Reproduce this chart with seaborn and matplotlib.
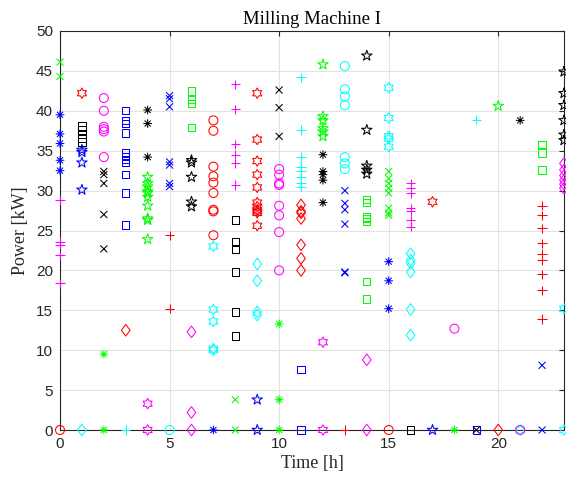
import numpy as np
import pandas as pd
import matplotlib
matplotlib.use("Agg")
import matplotlib.pyplot as plt
from matplotlib.path import Path
import seaborn as sns

# ---------------------------------------------------------------------------
# Power readings per run: {hour: [readings in kW]}
# ---------------------------------------------------------------------------
run01 = {0: [0], 7: [38.8, 37.5, 33.0, 31.8, 31.0, 29.7, 27.6, 27.4, 24.4], 15: [0]}
run02 = {1: [0], 9: [20.8, 18.7, 14.8, 14.4], 16: [22.1, 21.3, 20.9, 19.8, 15.1, 11.9]}
run03 = {2: [9.5, 0], 10: [13.3, 3.8, 0], 18: [0]}
run04 = {3: [0], 11: [44.2, 37.6, 34.2, 33.0, 32.4, 31.7, 31.0, 30.5], 19: [38.9]}
run05 = {4: [3.3, 0], 12: [11.0, 0]}
run06 = {5: [0], 13: [45.6, 42.7, 41.8, 40.7, 34.2, 33.4, 32.7]}
run07 = {6: [12.3, 2.2, 0], 14: [8.8, 0], 23: [33.4, 32.6, 31.9, 31.3, 30.8, 30.3]}
run08 = {0: [39.5, 37.1, 35.9, 33.8, 32.5], 7: [0], 15: [21.1, 18.7, 15.2]}
run09 = {0: [46.1, 44.3], 8: [3.8, 0], 15: [32.4, 31.5, 30.9, 30.3, 29.7, 27.8, 27.2, 26.9]}
run10 = {1: [35.1, 34.8, 33.5, 30.1], 9: [3.8, 0], 17: [0]}
run11 = {3: [40.0, 38.8, 38.4, 37.2, 34.7, 34.3, 33.9, 33.5, 32.0, 29.7, 25.7], 11: [7.6, 0], 19: [0]}
run12 = {5: [24.4, 15.2], 13: [0], 22: [28.1, 26.9, 25.3, 23.4, 22.1, 21.3, 19.5, 17.5, 13.9]}
run13 = {1: [38.1, 37.6, 37.0, 36.5, 36.1], 8: [26.3, 23.6, 22.6, 19.8, 14.8, 11.8], 16: [0]}
run14 = {5: [41.9, 41.5, 40.5, 33.6, 33.2, 30.9, 30.5], 13: [30.0, 28.4, 27.6, 25.8, 19.8, 19.7], 22: [8.1, 0]}
run15 = {3: [12.5], 11: [28.2, 27.4, 27.2, 26.5, 23.2, 21.5, 20.0], 20: [0]}
run16 = {4: [31.7, 30.9, 30.5, 29.9, 29.7, 29.2, 28.1, 26.5, 26.3, 23.9],
         12: [45.8, 39.3, 38.8, 37.8, 37.4, 36.8], 20: [40.6]}
run17 = {4: [40.1, 38.4, 34.2], 12: [34.5, 32.4, 32.0, 31.3, 28.5], 21: [38.8]}
run18 = {7: [23.0, 15.1, 13.6, 10.2, 10.0], 15: [42.9, 39.1, 36.8, 36.5, 35.5], 21: [0], 23: [15.2, 0]}
run19 = {2: [41.6, 40.0, 38.0, 37.7, 37.4, 34.2],
         10: [32.7, 32.0, 30.9, 30.7, 28.1, 26.9, 24.8, 20.0], 18: [12.7], 21: [0]}
run20 = {2: [32.4, 32.0, 30.9, 27.0, 22.7], 10: [42.6, 40.4, 36.8], 19: [0]}
run21 = {6: [42.5, 41.4, 40.9, 37.9], 14: [28.9, 28.5, 26.7, 26.5, 26.1, 18.6, 16.4], 22: [35.8, 34.7, 32.6]}
run22 = {6: [33.8, 33.5, 31.7, 28.6, 28.0], 14: [46.9, 37.6, 33.1, 32.6, 32.1],
         23: [44.9, 42.2, 40.7, 38.8, 37.0, 36.3]}
run23 = {0: [28.8, 23.6, 23.2, 21.9, 18.4], 8: [43.3, 40.2, 35.8, 34.5, 33.4, 30.7],
         16: [30.9, 30.3, 29.7, 27.8, 27.4, 26.3, 25.5]}
run24 = {1: [42.2], 9: [42.2, 36.4, 33.7, 32.0, 30.4, 28.5, 28.0, 27.6, 27.4, 27.2, 25.6], 17: [28.6]}

runs = [run01, run02, run03, run04, run05, run06, run07, run08, run09, run10, run11, run12,
        run13, run14, run15, run16, run17, run18, run19, run20, run21, run22, run23, run24]

# colour / marker per run (MATLAB-like line spec)
run_styles = [("r", "o"), ("c", "d"), ("g", "*"), ("c", "+"), ("m", "h"), ("c", "o"),
              ("m", "d"), ("b", "*"), ("g", "x"), ("b", "p"), ("b", "s"), ("r", "+"),
              ("k", "s"), ("b", "x"), ("r", "d"), ("g", "p"), ("k", "*"), ("c", "h"),
              ("m", "o"), ("k", "x"), ("g", "s"), ("k", "p"), ("m", "+"), ("r", "h")]

xticks = [0, 5, 10, 15, 20]
yticks = list(range(0, 51, 5))

# ---------------------------------------------------------------------------
# Marker shapes
# ---------------------------------------------------------------------------
def polygon(pts):
    verts = list(pts) + [pts[0]]
    codes = [Path.MOVETO] + [Path.LINETO] * (len(pts) - 1) + [Path.CLOSEPOLY]
    return Path(verts, codes)


def star(n, inner):
    k = np.arange(2 * n)
    ang = np.pi / 2 + k * np.pi / n
    r = np.where(k % 2 == 0, 1.0, inner)
    return polygon(list(zip(r * np.cos(ang), r * np.sin(ang))))


def strokes(segs):
    verts, codes = [], []
    for a, b in segs:
        verts += [a, b]
        codes += [Path.MOVETO, Path.LINETO]
    return Path(verts, codes)


d = np.sqrt(0.5)
shapes = {
    "o": (Path.unit_circle(), 9.0),
    "s": (polygon([(-1, -1), (1, -1), (1, 1), (-1, 1)]), 7.4),
    "d": (polygon([(0, 1), (0.75, 0), (0, -1), (-0.75, 0)]), 11.6),
    "p": (star(5, 0.382), 11.0),
    "h": (star(6, 1 / np.sqrt(3)), 10.4),
    "+": (strokes([((-1, 0), (1, 0)), ((0, -1), (0, 1))]), 9.2),
    "x": (strokes([((-1, -1), (1, 1)), ((-1, 1), (1, -1))]), 7.0),
    "*": (strokes([((-1, 0), (1, 0)), ((0, -1), (0, 1)),
                   ((-d, -d), (d, d)), ((-d, d), (d, -d))]), 8.6),
}
colors = {"r": (1, 0, 0), "g": (0, 1, 0), "b": (0, 0, 1),
          "c": (0, 1, 1), "m": (1, 0, 1), "k": (0, 0, 0)}

# ---------------------------------------------------------------------------
# Long-form table
# ---------------------------------------------------------------------------
rows = []
for i, run in enumerate(runs):
    for hour, vals in run.items():
        for v in vals:
            rows.append({"run": i, "Time": hour, "Power": v})
df = pd.DataFrame(rows)

# ---------------------------------------------------------------------------
# Figure
# ---------------------------------------------------------------------------
sns.set_style("white")
plt.rcParams["font.family"] = ["Liberation Sans", "DejaVu Sans"]

fig = plt.figure(figsize=(5.66, 4.78), dpi=100)
ax = fig.add_axes([60 / 566, 48 / 478, 504 / 566, 399 / 478])

px = 0.72  # points per pixel at 100 dpi
for i, (c, m) in enumerate(run_styles):
    sub = df[df["run"] == i]
    path, size_px = shapes[m]
    col = colors[c]
    sns.scatterplot(data=sub, x="Time", y="Power", ax=ax, marker=path,
                    s=(size_px * px) ** 2, color=col, facecolor="none",
                    edgecolor=col, linewidth=0.75, clip_on=False, zorder=3,
                    legend=False)

ax.set_xlim(0, 23)
ax.set_ylim(0, 50)
ax.set_xticks(xticks)
ax.set_yticks(yticks)
ax.grid(True, color="#e2e2e2", linewidth=0.8)
ax.set_axisbelow(True)

for side in ["left", "right", "top", "bottom"]:
    ax.spines[side].set_visible(True)
    ax.spines[side].set_color("#262626")
    ax.spines[side].set_linewidth(0.8)

ax.tick_params(direction="in", length=3.5, width=0.8, color="#262626",
               top=True, right=True, labelsize=11, labelcolor="#262626", pad=5)

serif = ["Liberation Serif", "DejaVu Serif"]
ax.set_title("Milling Machine I", family=serif, fontsize=13.5, color="black", pad=5)
ax.set_xlabel("Time [h]", family=serif, fontsize=13, labelpad=3)
ax.set_ylabel("Power [kW]", family=serif, fontsize=13, labelpad=5)

fig.savefig("out.png", dpi=100)
